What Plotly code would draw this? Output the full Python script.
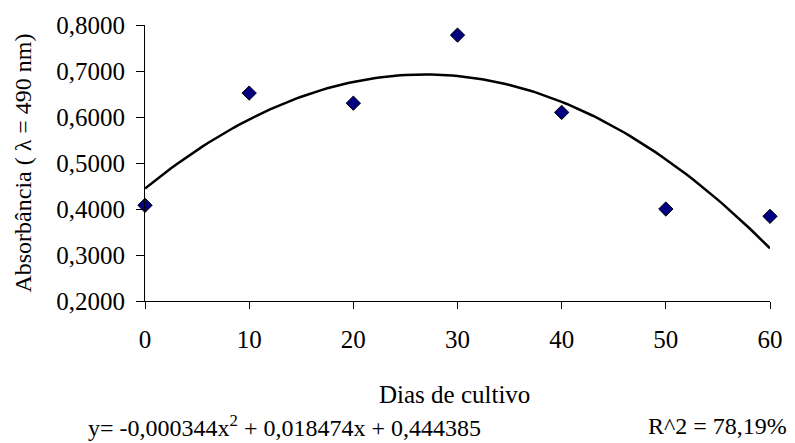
import numpy as np
import plotly.graph_objects as go

dias = [0, 10, 20, 30, 40, 50, 60]
absorbancia = [0.408, 0.652, 0.630, 0.778, 0.610, 0.400, 0.384]
coef = [-0.000344, 0.018474, 0.444385]  # trendline coefficients (a, b, c)
y_ticks = [0.2, 0.3, 0.4, 0.5, 0.6, 0.7, 0.8]
x_ticks = [0, 10, 20, 30, 40, 50, 60]

xf = np.linspace(0, 60, 121)
yf = np.polyval(coef, xf)

FONT = "Liberation Serif, Times New Roman, serif"
W, H = 795, 443
L, R, T, B = 145, 22, 22, 142

fig = go.Figure()
fig.add_trace(go.Scatter(x=xf, y=yf, mode="lines",
                         line=dict(color="black", width=2.5),
                         hoverinfo="skip", cliponaxis=False))
fig.add_trace(go.Scatter(x=dias, y=absorbancia, mode="markers",
                         marker=dict(symbol="diamond", size=11, color="#000080",
                                     line=dict(color="black", width=1)),
                         cliponaxis=False))

fig.update_layout(
    width=W, height=H,
    margin=dict(l=L, r=R, t=T, b=B, pad=0),
    paper_bgcolor="white", plot_bgcolor="white",
    showlegend=False,
    separators=",.",
    font=dict(family=FONT, size=25, color="black"),
    xaxis=dict(range=[0, 60], tickvals=x_ticks, showline=True, linecolor="black",
               linewidth=1, ticks="outside", ticklen=7, tickcolor="black",
               showgrid=False, zeroline=False, ticklabelstandoff=9,
               tickfont=dict(family=FONT, size=25)),
    yaxis=dict(range=[0.2, 0.8], tickvals=y_ticks, tickformat=".4f",
               showline=True, linecolor="black", linewidth=1,
               ticks="outside", ticklen=8, tickcolor="black",
               showgrid=False, zeroline=False, ticklabelstandoff=6,
               tickfont=dict(family=FONT, size=25)),
)

pw = W - L - R
ph = H - T - B

def px(xp):
    return (xp - L) / pw

def py(yp):
    return (H - B - yp) / ph

fig.add_annotation(text="Absorbância ( λ = 490 nm)", textangle=-90,
                   xref="paper", yref="paper", x=px(22), y=0.5,
                   xanchor="center", yanchor="middle", showarrow=False,
                   font=dict(family=FONT, size=24))
fig.add_annotation(text="Dias de cultivo", xref="paper", yref="paper",
                   x=px(456), y=py(396), xanchor="center", yanchor="middle",
                   showarrow=False, font=dict(family=FONT, size=25))
fig.add_annotation(text="y= -0,000344x<sup>2</sup> + 0,018474x + 0,444385",
                   xref="paper", yref="paper", x=px(86), y=py(427),
                   xanchor="left", yanchor="middle", showarrow=False,
                   font=dict(family=FONT, size=24))
fig.add_annotation(text="R^2 = 78,19%", xref="paper", yref="paper",
                   x=px(792), y=py(427), xanchor="right", yanchor="middle",
                   showarrow=False, font=dict(family=FONT, size=24))

fig.write_html("out.html")
